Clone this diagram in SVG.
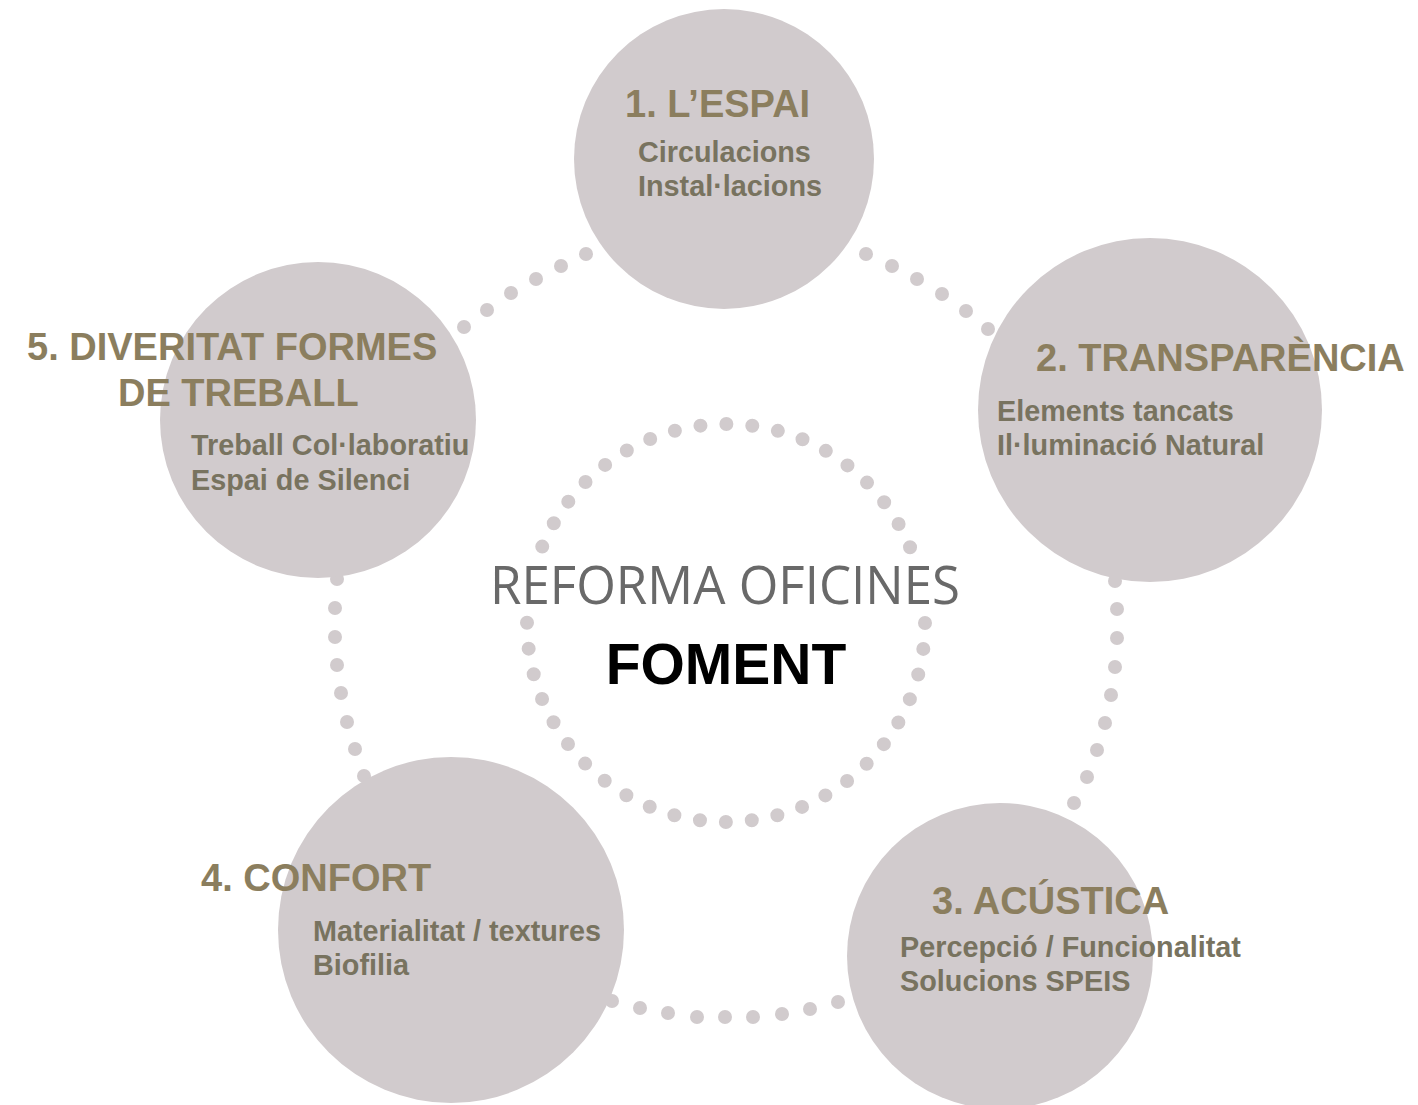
<svg xmlns="http://www.w3.org/2000/svg" width="1418" height="1105" viewBox="0 0 1418 1105">
<style>
.bubble{fill:#d1cbcd}
.dot{fill:#d1cbcd}
.head{font-family:"Liberation Sans",Arial,sans-serif;font-weight:bold;font-size:38px;fill:#8b7e5e}
.sub{font-family:"Liberation Sans",Arial,sans-serif;font-weight:bold;font-size:28.8px;fill:#78735f}
.ring{fill:none;stroke:#d1cbcd;stroke-width:14;stroke-linecap:round;stroke-dasharray:0 26.049}
</style>
<rect width="1418" height="1105" fill="#ffffff"/>
<g id="connectors">
  <g id="c5-1">
    <circle class="dot" cx="464" cy="327" r="7"/><circle class="dot" cx="487" cy="310" r="7"/><circle class="dot" cx="511" cy="293" r="7"/><circle class="dot" cx="536" cy="279" r="7"/><circle class="dot" cx="561" cy="266" r="7"/><circle class="dot" cx="586" cy="254" r="7"/>
  </g>
  <g id="c1-2">
    <circle class="dot" cx="866" cy="254" r="7"/><circle class="dot" cx="892" cy="266" r="7"/><circle class="dot" cx="917" cy="279" r="7"/><circle class="dot" cx="942" cy="294" r="7"/><circle class="dot" cx="966" cy="311" r="7"/><circle class="dot" cx="988" cy="329" r="7"/>
  </g>
  <g id="c5-4">
    <circle class="dot" cx="337" cy="579" r="7"/><circle class="dot" cx="335" cy="608" r="7"/><circle class="dot" cx="335" cy="637" r="7"/><circle class="dot" cx="337" cy="665" r="7"/><circle class="dot" cx="341" cy="693" r="7"/><circle class="dot" cx="347" cy="722" r="7"/><circle class="dot" cx="355" cy="749" r="7"/><circle class="dot" cx="364" cy="776" r="7"/>
  </g>
  <g id="c2-3">
    <circle class="dot" cx="1115" cy="581" r="7"/><circle class="dot" cx="1117" cy="609" r="7"/><circle class="dot" cx="1117" cy="638" r="7"/><circle class="dot" cx="1115" cy="667" r="7"/><circle class="dot" cx="1111" cy="695" r="7"/><circle class="dot" cx="1105" cy="723" r="7"/><circle class="dot" cx="1097" cy="750" r="7"/><circle class="dot" cx="1087" cy="777" r="7"/><circle class="dot" cx="1074" cy="803" r="7"/>
  </g>
  <g id="c4-3">
    <circle class="dot" cx="612" cy="1001" r="7"/><circle class="dot" cx="640" cy="1008" r="7"/><circle class="dot" cx="668" cy="1013" r="7"/><circle class="dot" cx="697" cy="1017" r="7"/><circle class="dot" cx="725" cy="1017" r="7"/><circle class="dot" cx="753" cy="1017" r="7"/><circle class="dot" cx="782" cy="1014" r="7"/><circle class="dot" cx="810" cy="1009" r="7"/><circle class="dot" cx="838" cy="1002" r="7"/>
  </g>
</g>
<g id="center">
  <circle class="ring" cx="726" cy="623" r="199"/>
  <rect x="486" y="558" width="478" height="54" fill="#ffffff"/>
  <text x="725" y="604" text-anchor="middle" font-family="'Open Sans','DejaVu Sans',sans-serif" font-weight="normal" font-size="53" fill="#696969" textLength="470" lengthAdjust="spacingAndGlyphs">REFORMA OFICINES</text>
  <text x="726" y="684" text-anchor="middle" font-family="'Liberation Sans',Arial,sans-serif" font-weight="bold" font-size="57" fill="#000000">FOMENT</text>
</g>
<g id="node1">
  <circle class="bubble" cx="724" cy="159" r="150"/>
  <text class="head" x="625" y="117">1. L’ESPAI</text>
  <text class="sub" x="638" y="162">Circulacions</text>
  <text class="sub" x="638" y="196">Instal·lacions</text>
</g>
<g id="node2">
  <circle class="bubble" cx="1150" cy="410" r="172"/>
  <text class="head" x="1036" y="371">2. TRANSPARÈNCIA</text>
  <text class="sub" x="997" y="421">Elements tancats</text>
  <text class="sub" x="997" y="455">Il·luminació Natural</text>
</g>
<g id="node3">
  <circle class="bubble" cx="1000" cy="956" r="153"/>
  <text class="head" x="932" y="914">3. ACÚSTICA</text>
  <text class="sub" x="900" y="957">Percepció / Funcionalitat</text>
  <text class="sub" x="900" y="991">Solucions SPEIS</text>
</g>
<g id="node4">
  <circle class="bubble" cx="451" cy="930" r="173"/>
  <text class="head" x="201" y="891">4. CONFORT</text>
  <text class="sub" x="313" y="941">Materialitat / textures</text>
  <text class="sub" x="313" y="975">Biofilia</text>
</g>
<g id="node5">
  <circle class="bubble" cx="318" cy="420" r="158"/>
  <text class="head" x="27" y="360">5. DIVERITAT FORMES</text>
  <text class="head" x="118" y="406">DE TREBALL</text>
  <text class="sub" x="191" y="455">Treball Col·laboratiu</text>
  <text class="sub" x="191" y="490">Espai de Silenci</text>
</g>
</svg>
